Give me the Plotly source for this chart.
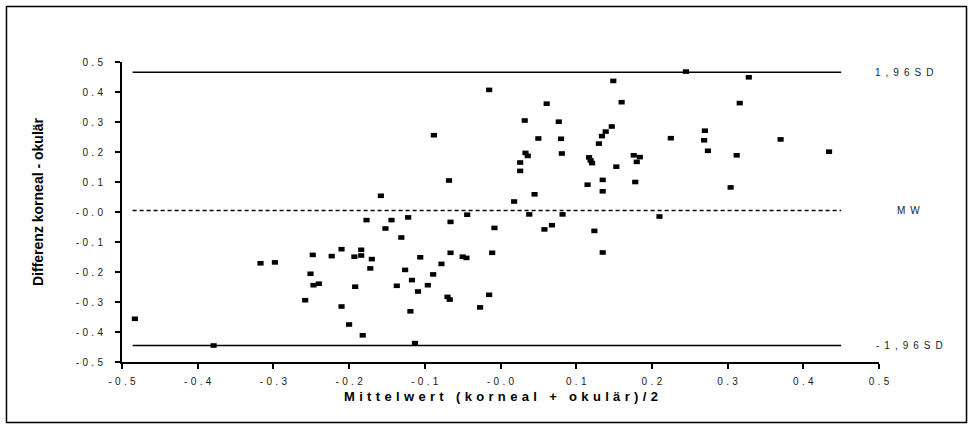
import plotly.graph_objects as go

# ---- data (Bland-Altman plot) ----
mittelwert = [
    0.149, -0.015, 0.160, 0.061, 0.032, 0.077, 0.147, 0.139, 0.134, -0.088,
    0.050, 0.080, 0.130, 0.033, 0.036, 0.081, 0.117, 0.119, 0.121, 0.176,
    0.184, 0.180, 0.153, 0.026, 0.026, -0.068, 0.135, 0.115, 0.178, 0.135,
    0.045, 0.018, -0.158, 0.245, 0.328, 0.316, 0.270, 0.225, 0.269, 0.370,
    0.274, 0.312, 0.434, 0.304,
    -0.177, -0.210, -0.184, -0.248, -0.223, -0.193, -0.184, -0.170, -0.317, -0.298,
    -0.172, -0.251, -0.247, -0.240, -0.192, -0.258, -0.210, -0.483, -0.200, -0.182,
    -0.379,
    -0.144, -0.122, -0.152, -0.066, -0.044, -0.008, -0.131, 0.038, 0.082, 0.068,
    0.058, 0.124, 0.135, -0.106, -0.066, -0.050, -0.045, -0.011, -0.078, -0.126,
    -0.089, -0.117, -0.137, -0.096, -0.109, -0.070, -0.067, -0.015, -0.027, -0.119,
    -0.113, 0.210,
]
differenz = [
    0.437, 0.407, 0.366, 0.361, 0.305, 0.301, 0.285, 0.268, 0.253, 0.256,
    0.245, 0.244, 0.228, 0.197, 0.187, 0.195, 0.182, 0.172, 0.163, 0.189,
    0.183, 0.167, 0.151, 0.165, 0.137, 0.105, 0.107, 0.091, 0.100, 0.069,
    0.059, 0.035, 0.054, 0.468, 0.449, 0.363, 0.271, 0.246, 0.239, 0.242,
    0.204, 0.189, 0.201, 0.082,
    -0.027, -0.124, -0.126, -0.143, -0.147, -0.149, -0.145, -0.157, -0.171, -0.168,
    -0.188, -0.206, -0.244, -0.239, -0.249, -0.294, -0.315, -0.356, -0.375, -0.411,
    -0.445,
    -0.027, -0.018, -0.055, -0.033, -0.009, -0.053, -0.085, -0.008, -0.008, -0.044,
    -0.058, -0.063, -0.135, -0.151, -0.136, -0.149, -0.153, -0.136, -0.173, -0.193,
    -0.208, -0.227, -0.246, -0.244, -0.265, -0.283, -0.292, -0.276, -0.318, -0.331,
    -0.437, -0.015,
]
upper_sd = 0.466
mean_diff = 0.005
lower_sd = -0.445
line_x = [-0.486, 0.450]

tick_vals = [-0.5, -0.4, -0.3, -0.2, -0.1, 0.0, 0.1, 0.2, 0.3, 0.4, 0.5]
tick_text = ["-0.5", "-0.4", "-0.3", "-0.2", "-0.1", "-0.0", "0.1", "0.2", "0.3", "0.4", "0.5"]

x_title = "Mittelwert (korneal + okulär)/2"
y_title = "Differenz korneal - okulär"
label_upper = "1,96SD"
label_mean = "MW"
label_lower = "-1,96SD"


def spaced(s, sep="\u2004"):
    return sep.join(s)


FONT = "Liberation Sans, Arial, sans-serif"

fig = go.Figure()

fig.add_trace(go.Scatter(x=line_x, y=[upper_sd, upper_sd], mode="lines",
                         line=dict(color="black", width=1.6), hoverinfo="skip"))
fig.add_trace(go.Scatter(x=line_x, y=[mean_diff, mean_diff], mode="lines",
                         line=dict(color="black", width=1.4, dash="4px,3px"), hoverinfo="skip"))
fig.add_trace(go.Scatter(x=line_x, y=[lower_sd, lower_sd], mode="lines",
                         line=dict(color="black", width=1.6), hoverinfo="skip"))

fig.add_trace(go.Scatter(
    x=mittelwert, y=differenz, mode="markers",
    marker=dict(symbol="line-ew", size=4.4, color="black",
                line=dict(color="black", width=4.6)),
    cliponaxis=False,
))

axis_common = dict(
    range=[-0.5, 0.5], tickvals=tick_vals,
    ticktext=[spaced(t) for t in tick_text],
    showgrid=False, zeroline=False, showline=True, linecolor="black", linewidth=2,
    ticks="outside", ticklen=5, tickwidth=2, tickcolor="black",
    tickfont=dict(family=FONT, size=10, color="#1a1a1a"),
)

fig.update_xaxes(**axis_common, ticklabelstandoff=4)
fig.update_yaxes(**axis_common, ticklabelstandoff=10)

annotations = [
    dict(text="<b>" + spaced(x_title) + "</b>", xref="paper", yref="paper",
         x=0.5, y=-0.115, xanchor="center", yanchor="middle", showarrow=False,
         font=dict(family=FONT, size=13, color="black")),
    dict(text="<b>" + y_title + "</b>", xref="paper", yref="paper",
         x=-0.1116, y=0.535, xanchor="center", yanchor="middle", showarrow=False,
         textangle=-90, font=dict(family=FONT, size=14, color="black")),
    dict(text=spaced(label_upper, "\u2002"), xref="paper", yref="y",
         x=0.9927, y=upper_sd, xanchor="left", yanchor="middle", showarrow=False,
         font=dict(family=FONT, size=10, color="#1a1a1a")),
    dict(text=spaced(label_mean, "\u2002"), xref="paper", yref="y",
         x=1.0205, y=mean_diff, xanchor="left", yanchor="middle", showarrow=False,
         font=dict(family=FONT, size=10, color="#1a1a1a")),
    dict(text=spaced(label_lower, "\u2002"), xref="paper", yref="y",
         x=0.994, y=lower_sd, xanchor="left", yanchor="middle", showarrow=False,
         font=dict(family=FONT, size=10, color="#1a1a1a")),
]

fig.update_layout(
    width=974, height=427,
    margin=dict(l=122, r=95, t=62, b=65),
    paper_bgcolor="white", plot_bgcolor="white",
    showlegend=False,
    annotations=annotations,
    shapes=[dict(type="rect", xref="paper", yref="paper",
                 x0=-0.1526, x1=1.1156, y0=-0.2017, y1=1.185,
                 line=dict(color="black", width=1.5))],
)

fig.write_html("out.html")
